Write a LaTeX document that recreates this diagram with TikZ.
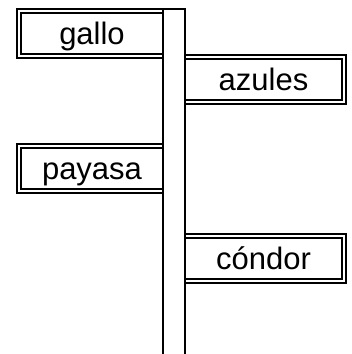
\documentclass[tikz,border=0pt]{standalone}
\usepackage{fontspec}
\setmainfont{Liberation Sans}
\begin{document}
\begin{tikzpicture}[x=1pt, y=1pt,
        sign/.style={draw, double, double distance=2pt, line width=2pt, fill=white,
            inner sep=0pt, minimum height=45pt, text height=22.5pt, text depth=0pt,
            font=\fontsize{31}{37}\selectfont},
        leftsign/.style={sign, minimum width=146pt},
        rightsign/.style={sign, minimum width=161pt}]
        \useasboundingbox (0,0) rectangle (352,-354);

        % signs on the left of the pole
        \node[leftsign] (gallo) at (92,-33.5) {gallo\hspace{2pt}};
        \node[leftsign] (payasa) at (92,-168.5) {payasa\hspace{3pt}};
        % signs on the right
        \node[rightsign] (azules) at (263.5,-79.5) {azules};
        \node[rightsign] (condor) at (263.5,-258.5) {cóndor};

        % the pole, open at the bottom
        \filldraw[line width=2pt, fill=white] (163,-356) -- (163,-9) -- (185,-9) -- (185,-356);
    \end{tikzpicture}
\end{document}
